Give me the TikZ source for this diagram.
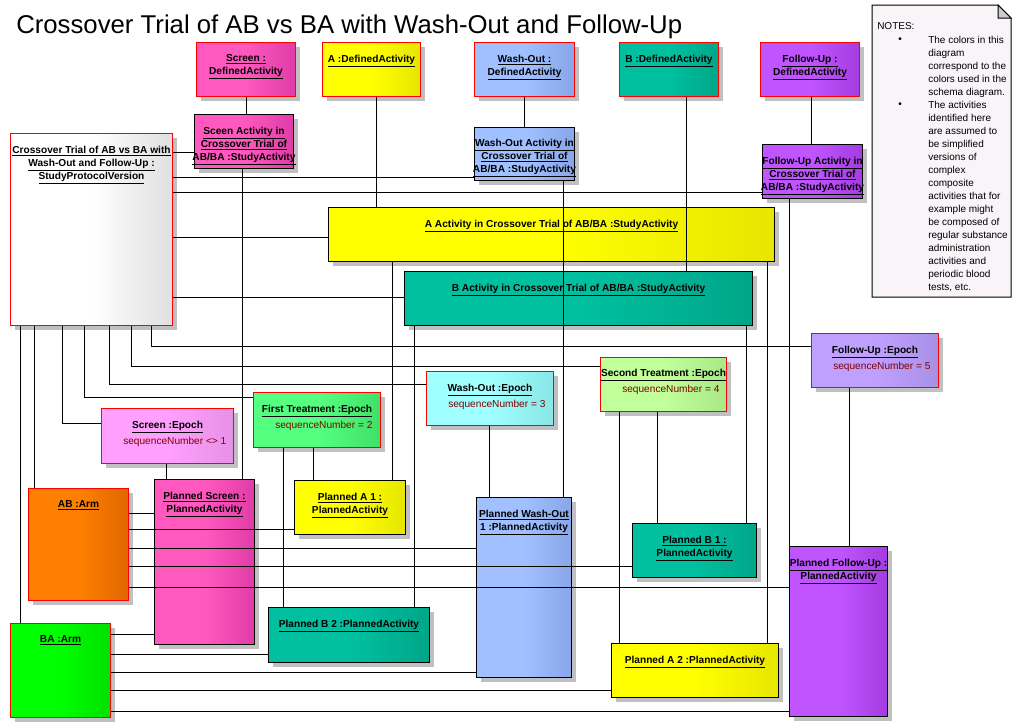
\documentclass[tikz,border=0pt]{standalone}
\usepackage{fontspec}
\setmainfont{Liberation Sans}
\usetikzlibrary{shadows}
\definecolor{pinkA}{HTML}{FF58BE}
\definecolor{pinkB}{HTML}{E03CA8}
\definecolor{yelA}{HTML}{FFFF00}
\definecolor{yelB}{HTML}{E6E600}
\definecolor{bluA}{HTML}{A0C0FF}
\definecolor{bluB}{HTML}{88A6E8}
\definecolor{tealA}{HTML}{00C0A0}
\definecolor{tealB}{HTML}{00A688}
\definecolor{purA}{HTML}{C055FF}
\definecolor{purB}{HTML}{A43CE0}
\definecolor{grayB}{HTML}{E0E0E0}
\definecolor{spinkA}{HTML}{FFA0FF}
\definecolor{spinkB}{HTML}{E690E6}
\definecolor{grnA}{HTML}{55FF80}
\definecolor{grnB}{HTML}{40E068}
\definecolor{cyanA}{HTML}{A0FFFF}
\definecolor{cyanB}{HTML}{88E6E6}
\definecolor{limeA}{HTML}{C0FF99}
\definecolor{limeB}{HTML}{A8E888}
\definecolor{lavA}{HTML}{C0A0FF}
\definecolor{lavB}{HTML}{A890E6}
\definecolor{orA}{HTML}{FF8000}
\definecolor{orB}{HTML}{E06600}
\definecolor{ggA}{HTML}{00FF00}
\definecolor{ggB}{HTML}{00E000}
\definecolor{seqred}{HTML}{800000}
\definecolor{notefill}{HTML}{F8F4F8}
\definecolor{shadowgray}{HTML}{C0C0C0}
\tikzset{
 ubox/.style={draw=#1, line width=0.75pt, inner sep=0pt,
   drop shadow={shadow xshift=3pt, shadow yshift=-3pt, fill=shadowgray, opacity=1}},
 grad/.style 2 args={left color=#1, right color=#2, middle color=#1},
 lbl/.style={font=\fontsize{7.6}{9.75}\selectfont\bfseries, align=center, inner sep=0pt, anchor=north},
 seqtxt/.style={font=\fontsize{7.6}{9.75}\selectfont, text=seqred, inner sep=0pt, anchor=west},
 ntxt/.style={font=\fontsize{7.5}{9.75}\selectfont, align=left, inner sep=0pt},
 conn/.style={line width=0.75pt, draw=black},
}
\newcommand{\mkbox}[6]{%
 \pgfmathsetmacro\mkbw{(#5-#3)*0.75}%
 \pgfmathsetmacro\mkbh{(#6-#4)*0.75}%
 \node[#2, minimum width=\mkbw pt, minimum height=\mkbh pt, anchor=north west] (#1) at (#3,#4) {};}
\begin{document}
\begin{tikzpicture}[x=0.75pt, y=-0.75pt]
\useasboundingbox (0,0) rectangle (1021,728);
\fill[white] (0,0) rectangle (1021,728);

\node[anchor=base west, font=\fontsize{19.3}{23}\selectfont, inner sep=0pt] (title) at (16,33)
 {Crossover Trial of AB vs BA with Wash-Out and Follow-Up};

% notes
\draw[line width=0.75pt, fill=notefill] (872,5) -- (998,5) -- (1011,18) -- (1011,297) -- (872,297) -- cycle;
\draw[line width=0.75pt, fill=black!20] (998,5) -- (998,18) -- (1011,18) -- cycle;
\node[ntxt, anchor=north west] (nhead) at (877,22.4) {NOTES:};
\node[ntxt] (nbul1) at (900,40) {•};
\node[ntxt] (nbul2) at (900,105) {•};
\node[ntxt, anchor=north west] (npara1) at (928,36.4) {The colors in this\\diagram\\correspond to the\\colors used in the\\schema diagram.};
\node[ntxt, anchor=north west] (npara2) at (928,101.4) {The activities\\identified here\\are assumed to\\be simplified\\versions of\\complex\\composite\\activities that for\\example might\\be composed of\\regular substance\\administration\\activities and\\periodic blood\\tests, etc.};

% boxes
\mkbox{sDA}{ubox=red, grad={pinkA}{pinkB}}{196}{42}{295}{96}
\mkbox{aDA}{ubox=red, grad={yelA}{yelB}}{322}{42}{420}{96}
\mkbox{wDA}{ubox=red, grad={bluA}{bluB}}{474}{42}{574}{96}
\mkbox{bDA}{ubox=red, grad={tealA}{tealB}}{619}{42}{718}{96}
\mkbox{fDA}{ubox=red, grad={purA}{purB}}{760}{42}{859}{96}
\mkbox{sAct}{ubox=black, grad={pinkA}{pinkB}}{194}{114}{293}{168}
\mkbox{wAct}{ubox=black, grad={bluA}{bluB}}{474}{127}{574}{180}
\mkbox{fAct}{ubox=black, grad={purA}{purB}}{762}{144}{862}{198}
\mkbox{proto}{ubox=red, grad={white}{grayB}}{10}{133}{172}{325}
\mkbox{aAct}{ubox=black, grad={yelA}{yelB}}{328}{207}{774}{261}
\mkbox{bAct}{ubox=black, grad={tealA}{tealB}}{404}{271}{752}{325}
\mkbox{fEp}{ubox=red, grad={lavA}{lavB}}{811}{333}{938}{387}
\mkbox{sEpB}{ubox=red, grad={limeA}{limeB}}{600}{357}{726}{411}
\mkbox{wEp}{ubox=red, grad={cyanA}{cyanB}}{426}{371}{553}{425}
\mkbox{ftEp}{ubox=red, grad={grnA}{grnB}}{253}{392}{380}{447}
\mkbox{sEp}{ubox=red, grad={spinkA}{spinkB}}{101}{408}{233}{463}
\mkbox{abArm}{ubox=red, grad={orA}{orB}}{28}{488}{128}{600}
\mkbox{baArm}{ubox=red, grad={ggA}{ggB}}{10}{623}{110}{717}
\mkbox{pScr}{ubox=black, grad={pinkA}{pinkB}}{154}{479}{254}{644}
\mkbox{pAa}{ubox=black, grad={yelA}{yelB}}{294}{480}{405}{534}
\mkbox{pBb}{ubox=black, grad={tealA}{tealB}}{268}{607}{429}{662}
\mkbox{pWash}{ubox=black, grad={bluA}{bluB}}{476}{497}{571}{677}
\mkbox{pBa}{ubox=black, grad={tealA}{tealB}}{632}{523}{756}{577}
\mkbox{pAb}{ubox=black, grad={yelA}{yelB}}{611}{643}{778}{697}
\mkbox{pFU}{ubox=black, grad={purA}{purB}}{789}{546}{887}{716}

% labels
\node[lbl] (sDAt) at ([yshift=-9.3pt]sDA.north) {\underline{Screen :}\\\underline{DefinedActivity}};
\node[lbl] (aDAt) at ([yshift=-9.3pt]aDA.north) {\underline{A :DefinedActivity}};
\node[lbl] (wDAt) at ([yshift=-9.3pt]wDA.north) {\underline{Wash-Out :}\\\underline{DefinedActivity}};
\node[lbl] (bDAt) at ([yshift=-9.3pt]bDA.north) {\underline{B :DefinedActivity}};
\node[lbl] (fDAt) at ([yshift=-9.3pt]fDA.north) {\underline{Follow-Up :}\\\underline{DefinedActivity}};
\node[lbl] (sActt) at ([yshift=-9.3pt]sAct.north) {\underline{Sceen Activity in}\\\underline{Crossover Trial of}\\\underline{AB/BA :StudyActivity}};
\node[lbl] (wActt) at ([yshift=-8.6pt]wAct.north) {\underline{Wash-Out Activity in}\\\underline{Crossover Trial of}\\\underline{AB/BA :StudyActivity}};
\node[lbl] (fActt) at ([yshift=-9.3pt]fAct.north) {\underline{Follow-Up Activity in}\\\underline{Crossover Trial of}\\\underline{AB/BA :StudyActivity}};
\node[lbl] (protot) at ([yshift=-9.3pt]proto.north) {\underline{Crossover Trial of AB vs BA with}\\\underline{Wash-Out and Follow-Up :}\\\underline{StudyProtocolVersion}};
\node[lbl] (aActt) at ([yshift=-9.3pt]aAct.north) {\underline{A Activity in Crossover Trial of AB/BA :StudyActivity}};
\node[lbl] (bActt) at ([yshift=-9.3pt]bAct.north) {\underline{B Activity in Crossover Trial of AB/BA :StudyActivity}};
\node[lbl] (fEpt) at ([yshift=-9.3pt]fEp.north) {\underline{Follow-Up :Epoch}};
\node[lbl] (sEpBt) at ([yshift=-8.6pt]sEpB.north) {\underline{Second Treatment :Epoch}};
\node[lbl] (wEpt) at ([yshift=-9.3pt]wEp.north) {\underline{Wash-Out :Epoch}};
\node[lbl] (ftEpt) at ([yshift=-9.3pt]ftEp.north) {\underline{First Treatment :Epoch}};
\node[lbl] (sEpt) at ([yshift=-9.3pt]sEp.north) {\underline{Screen :Epoch}};
\node[seqtxt] (fEps) at ([xshift=16.5pt, yshift=-25.5pt]fEp.north west) {sequenceNumber = 5};
\node[seqtxt] (sEpBs) at ([xshift=16.5pt, yshift=-24.8pt]sEpB.north west) {sequenceNumber = 4};
\node[seqtxt] (wEps) at ([xshift=16.5pt, yshift=-25.5pt]wEp.north west) {sequenceNumber = 3};
\node[seqtxt] (ftEps) at ([xshift=16.5pt, yshift=-25.5pt]ftEp.north west) {sequenceNumber = 2};
\node[seqtxt] (sEps) at ([xshift=16.5pt, yshift=-25.5pt]sEp.north west) {sequenceNumber <> 1};
\node[lbl] (abArmt) at ([yshift=-9.3pt]abArm.north) {\underline{AB :Arm}};
\node[lbl] (baArmt) at ([yshift=-9.3pt]baArm.north) {\underline{BA :Arm}};
\node[lbl] (pScrt) at ([yshift=-9.3pt]pScr.north) {\underline{Planned Screen :}\\\underline{PlannedActivity}};
\node[lbl] (pAat) at ([yshift=-9.3pt]pAa.north) {\underline{Planned A 1 :}\\\underline{PlannedActivity}};
\node[lbl] (pBbt) at ([yshift=-9.3pt]pBb.north) {\underline{Planned B 2 :PlannedActivity}};
\node[lbl] (pWasht) at ([yshift=-9.3pt]pWash.north) {\underline{Planned Wash-Out}\\\underline{1 :PlannedActivity}};
\node[lbl] (pBat) at ([yshift=-9.3pt]pBa.north) {\underline{Planned B 1 :}\\\underline{PlannedActivity}};
\node[lbl] (pAbt) at ([yshift=-9.3pt]pAb.north) {\underline{Planned A 2 :PlannedActivity}};
\node[lbl] (pFUt) at ([yshift=-9.3pt]pFU.north) {\underline{Planned Follow-Up :}\\\underline{PlannedActivity}};

% connectors: defined activity -> study activity
\draw[conn] (sDA.south -| 246,0) -- (sAct.north -| 246,0);
\draw[conn] (aDA.south -| 376,0) -- (aAct.north -| 376,0);
\draw[conn] (wDA.south -| 524,0) -- (wAct.north -| 524,0);
\draw[conn] (bDA.south -| 686,0) -- (bAct.north -| 686,0);
\draw[conn] (fDA.south -| 811,0) -- (fAct.north -| 811,0);
% protocol -> study activities
\draw[conn] (proto.east |- 0,152) -- (sAct.west |- 0,152);
\draw[conn] (proto.east |- 0,177) -- (wAct.west |- 0,177);
\draw[conn] (proto.east |- 0,192) -- (fAct.west |- 0,192);
\draw[conn] (proto.east |- 0,237) -- (aAct.west |- 0,237);
\draw[conn] (proto.east |- 0,297) -- (bAct.west |- 0,297);
% protocol -> epochs and arms
\draw[conn] (proto.south -| 151,0) |- (fEp.west |- 0,346);
\draw[conn] (proto.south -| 131,0) |- (sEpB.west |- 0,366);
\draw[conn] (proto.south -| 109,0) |- (wEp.west |- 0,384);
\draw[conn] (proto.south -| 84,0) |- (ftEp.west |- 0,397);
\draw[conn] (proto.south -| 62,0) |- (sEp.west |- 0,423);
\draw[conn] (proto.south -| 34,0) -- (abArm.north -| 34,0);
\draw[conn] (proto.south -| 20,0) -- (baArm.north -| 20,0);
% study activities -> planned activities
\draw[conn] (sAct.south -| 242,0) -- (pScr.north -| 242,0);
\draw[conn] (aAct.south -| 392,0) -- (pAa.north -| 392,0);
\draw[conn] (bAct.south -| 414,0) -- (pBb.north -| 414,0);
\draw[conn] (wAct.south -| 563,0) -- (pWash.north -| 563,0);
\draw[conn] (bAct.south -| 746,0) -- (pBa.north -| 746,0);
\draw[conn] (aAct.south -| 767,0) -- (pAb.north -| 767,0);
\draw[conn] (fAct.south -| 789,0) -- (pFU.north -| 789,0);
% epochs -> planned activities
\draw[conn] (sEp.south -| 166,0) -- (pScr.north -| 166,0);
\draw[conn] (ftEp.south -| 313,0) -- (pAa.north -| 313,0);
\draw[conn] (ftEp.south -| 283,0) -- (pBb.north -| 283,0);
\draw[conn] (wEp.south -| 489,0) -- (pWash.north -| 489,0);
\draw[conn] (sEpB.south -| 657,0) -- (pBa.north -| 657,0);
\draw[conn] (sEpB.south -| 619,0) -- (pAb.north -| 619,0);
\draw[conn] (fEp.south -| 849,0) -- (pFU.north -| 849,0);
% arms -> planned activities
\draw[conn] (abArm.east |- 0,513) -- (pScr.west |- 0,513);
\draw[conn] (abArm.east |- 0,529) -- (pAa.west |- 0,529);
\draw[conn] (abArm.east |- 0,548) -- (pWash.west |- 0,548);
\draw[conn] (abArm.east |- 0,566) -- (pBa.west |- 0,566);
\draw[conn] (abArm.east |- 0,587) -- (pFU.west |- 0,587);
\draw[conn] (baArm.east |- 0,634) -- (pScr.west |- 0,634);
\draw[conn] (baArm.east |- 0,654) -- (pBb.west |- 0,654);
\draw[conn] (baArm.east |- 0,672) -- (pWash.west |- 0,672);
\draw[conn] (baArm.east |- 0,690) -- (pAb.west |- 0,690);
\draw[conn] (baArm.east |- 0,711) -- (pFU.west |- 0,711);
\end{tikzpicture}
\end{document}
